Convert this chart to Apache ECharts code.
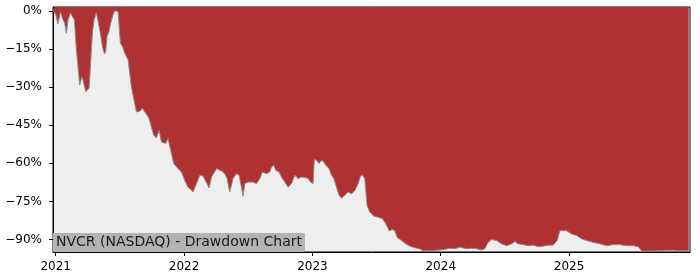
<!DOCTYPE html>
<html>
<head>
<meta charset="utf-8">
<script src="https://cdn.jsdelivr.net/npm/echarts@6/dist/echarts.min.js"></script>
<style>
html,body{margin:0;padding:0;background:#fff;}
#chart{width:700px;height:280px;}
</style>
</head>
<body>
<div id="chart"></div>
<script>
// Decimal-year positions of the samples
var years = [
2020.979,2020.984,2020.992,2021.000,2021.018,2021.037,2021.057,2021.070,2021.083,2021.096,
2021.115,2021.130,2021.146,2021.161,2021.174,2021.187,2021.203,2021.213,2021.234,2021.244,
2021.260,2021.275,2021.286,2021.299,2021.317,2021.333,2021.348,2021.364,2021.380,2021.390,
2021.400,2021.415,2021.426,2021.439,2021.452,2021.468,2021.486,2021.493,2021.504,2021.520,
2021.538,2021.551,2021.564,2021.577,2021.590,2021.610,2021.629,2021.655,2021.676,2021.694,
2021.712,2021.727,2021.746,2021.764,2021.785,2021.805,2021.824,2021.857,2021.875,2021.896,
2021.920,2021.953,2021.980,2022.005,2022.031,2022.044,2022.058,2022.070,2022.097,2022.122,
2022.148,2022.161,2022.179,2022.195,2022.214,2022.253,2022.292,2022.317,2022.335,2022.356,
2022.382,2022.408,2022.429,2022.447,2022.460,2022.473,2022.499,2022.538,2022.564,2022.590,
2022.611,2022.642,2022.668,2022.681,2022.699,2022.715,2022.740,2022.759,2022.785,2022.811,
2022.837,2022.863,2022.889,2022.915,2022.941,2022.967,2022.985,2023.005,2023.015,2023.032,
2023.052,2023.071,2023.089,2023.104,2023.130,2023.149,2023.167,2023.188,2023.208,2023.227,
2023.253,2023.278,2023.305,2023.331,2023.356,2023.375,2023.391,2023.408,2023.422,2023.426,
2023.447,2023.479,2023.512,2023.546,2023.572,2023.598,2023.624,2023.642,2023.660,2023.694,
2023.728,2023.759,2023.798,2023.832,2023.863,2023.941,2024.019,2024.071,2024.110,2024.149,
2024.201,2024.240,2024.279,2024.318,2024.344,2024.369,2024.396,2024.435,2024.474,2024.513,
2024.552,2024.578,2024.603,2024.642,2024.681,2024.720,2024.759,2024.798,2024.837,2024.876,
2024.907,2024.928,2024.942,2024.981,2025.020,2025.058,2025.097,2025.136,2025.188,2025.240,
2025.292,2025.344,2025.396,2025.448,2025.500,2025.539,2025.565,2025.604,2025.656,2025.708,
2025.760,2025.811,2025.850,2025.889,2025.932
];
// Drawdown from running peak, percent
var drawdown = [
0,0,-0.3,-1.5,-5.1,-0.5,-3.5,-4.9,-8.8,-3.5,
-0.9,-1.2,-3.6,-15.4,-22,-29.2,-26,-27.3,-31.8,-32.5,
-30.5,-29.9,-8.8,-3.5,-0.7,-4.9,-8.8,-14.1,-17,-16,
-10.1,-8.2,-5.5,-2.9,-0.7,0,-0.3,-0.9,-12.8,-14,
-16.7,-16,-19.3,-24.6,-29.9,-35.1,-39.8,-39.5,-38.4,-39.8,
-41,-42.4,-45.7,-49,-50,-47,-51.6,-52.2,-50.3,-54.9,
-60.1,-62.1,-63.4,-66.7,-69.4,-70,-70.5,-71.3,-68,-64.7,
-65,-64.7,-68,-69.7,-65.4,-62.1,-63,-64.1,-66,-71.3,
-66,-64.1,-64.7,-69.4,-73,-68,-67.4,-67.4,-68,-66,
-63.4,-64.1,-63.4,-61.5,-60.8,-62.8,-63.4,-65.4,-67.4,-69.4,
-68,-64.7,-66,-65.4,-65.6,-66,-67.4,-68,-58.5,-58.8,
-60.1,-58.8,-59.5,-60.8,-62.1,-64.7,-66,-69.4,-72.6,-73.7,
-72.6,-71.3,-72,-70.7,-68,-65,-64.7,-66,-65.4,-76.6,
-79.2,-80.8,-81.2,-81.8,-83.8,-86.5,-86,-86.5,-89.1,-90.4,
-91.7,-92.6,-93.2,-93.6,-94.4,-94.3,-94,-93.4,-93.6,-93,
-93.6,-93.4,-93.6,-94.1,-93.6,-91.1,-90,-90.4,-91.7,-92.4,
-91.7,-90.8,-91.7,-92,-92.4,-92.2,-92.8,-92.6,-92.2,-92.2,
-90.4,-86.5,-86.2,-86.5,-87.8,-88.4,-89.7,-90.4,-91.1,-91.7,
-92.4,-92,-92,-92.4,-92.4,-92.8,-94.5,-94.6,-94.5,-94.4,
-94.2,-94.2,-94.4,-94.4,-94.2
];
var yearTicks = [2021, 2022, 2023, 2024, 2025];
var pctTicks = [0, -15, -30, -45, -60, -75, -90];
var chartTitle = 'NVCR (NASDAQ) - Drawdown Chart';

var seriesData = years.map(function (t, i) { return [t, drawdown[i]]; });
var FONT = 'DejaVu Sans';

var chart = echarts.init(document.getElementById('chart'), null, {renderer: 'canvas'});
chart.setOption({
  animation: false,
  backgroundColor: '#ffffff',
  title: {
    text: chartTitle,
    left: 53,
    top: 233,
    padding: [2, 3, 2, 3],
    backgroundColor: '#b3b3b3',
    textStyle: {fontFamily: FONT, fontSize: 14, fontWeight: 'normal', color: '#1a1a1a', lineHeight: 15}
  },
  grid: {
    left: 53, right: 10, top: 7, bottom: 28,
    show: true, backgroundColor: '#eeeeee', borderColor: '#000', borderWidth: 1
  },
  xAxis: {
    type: 'value',
    min: 2020.979, max: 2025.942,
    splitLine: {show: false},
    axisLine: {show: true, onZero: false, lineStyle: {color: '#000', width: 1}},
    axisTick: {show: true, length: 4, lineStyle: {color: '#000'}, customValues: yearTicks},
    axisLabel: {
      customValues: yearTicks, margin: 9, color: '#000',
      fontFamily: FONT, fontSize: 12,
      formatter: function (v) { return String(Math.round(v)); }
    }
  },
  yAxis: {
    type: 'value',
    min: -94.9, max: 1.5,
    splitLine: {show: false},
    axisLine: {show: true, lineStyle: {color: '#000', width: 1}},
    axisTick: {show: true, length: 4, lineStyle: {color: '#000'}, customValues: pctTicks},
    axisLabel: {
      customValues: pctTicks, margin: 11, color: '#000',
      fontFamily: FONT, fontSize: 12,
      formatter: function (v) { return v === 0 ? '0%' : '\u2212' + Math.abs(v) + '%'; }
    }
  },
  series: [{
    type: 'line',
    data: seriesData,
    showSymbol: false,
    symbol: 'none',
    lineStyle: {color: '#8a8a8a', width: 1},
    areaStyle: {origin: 'end', color: '#b03131', opacity: 1},
    z: 2
  }]
});
</script>
</body>
</html>
